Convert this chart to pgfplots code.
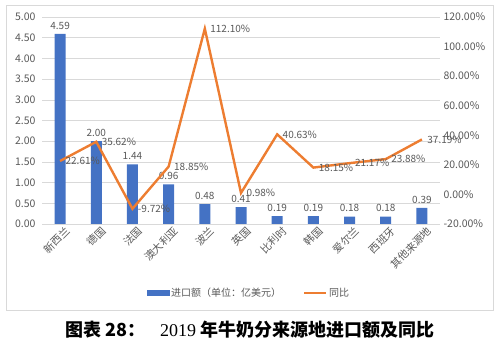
\documentclass[border=0pt]{standalone}
\usepackage{pgfplots}
\pgfplotsset{compat=1.18}
\usepackage{fontspec}
\setmainfont{Noto Sans CJK SC}
\newfontfamily\cjk{Noto Sans CJK SC}
\newfontfamily\capserif{Liberation Serif}
\definecolor{barblue}{HTML}{4472C4}
\definecolor{lineor}{HTML}{ED7D31}
\definecolor{txt}{HTML}{595959}
\definecolor{gridc}{HTML}{D9D9D9}
\begin{document}
\begin{tikzpicture}
\path[use as bounding box] (0pt,0pt) rectangle (500pt,353pt);
\draw[gridc, line width=0.8pt] (6pt,43pt) rectangle (493pt,348pt);
\begin{axis}[
  at={(42pt,129pt)}, anchor=south west, scale only axis,
  width=398pt, height=207pt,
  xmin=-0.5, xmax=10.5, ymin=0, ymax=5,
  ytick={0,0.5,1,1.5,2,2.5,3,3.5,4,4.5,5},
  yticklabel={\pgfmathprintnumber[fixed,fixed zerofill,precision=2]{\tick}},
  xtick={0,...,10},
  xticklabels={新西兰,德国,法国,澳大利亚,波兰,英国,比利时,韩国,爱尔兰,西班牙,其他来源地},
  x tick label style={font=\cjk\fontsize{10.5}{11}\selectfont, text=txt, rotate=45, anchor=east, inner sep=0pt, xshift=2pt, yshift=-9pt},
  y tick label style={font=\fontsize{10.5}{11}\selectfont, text=txt, xshift=-3pt},
  /pgf/number format/assume math mode=true,
  axis x line*=bottom, axis y line*=left, y axis line style={draw=none},
  x axis line style={gridc, line width=0.8pt},
  major tick length=0pt,
  ymajorgrids, grid style={gridc, line width=0.6pt},
  clip=false,
]
\addplot[ybar, bar width=11pt, fill=barblue, draw=none,
  nodes near coords={\pgfmathprintnumber[fixed,fixed zerofill,precision=2]{\pgfplotspointmeta}},
  every node near coord/.append style={font=\fontsize{10}{11}\selectfont, text=txt, anchor=south, yshift=1pt}]
  coordinates {(0,4.59) (1,2.00) (2,1.44) (3,0.96) (4,0.48) (5,0.41) (6,0.19) (7,0.19) (8,0.18) (9,0.18) (10,0.39)};
\end{axis}
\begin{axis}[
  at={(42pt,129pt)}, anchor=south west, scale only axis,
  width=398pt, height=207pt,
  xmin=-0.5, xmax=10.5, ymin=-20, ymax=120,
  ytick={-20,0,20,40,60,80,100,120},
  yticklabel={\pgfmathprintnumber[fixed,fixed zerofill,precision=2]{\tick}\%},
  y tick label style={font=\fontsize{10.5}{11}\selectfont, text=txt},
  /pgf/number format/assume math mode=true,
  axis x line=none, axis y line*=right, y axis line style={draw=none},
  major tick length=0pt,
  clip=false,
  legend style={at={(0.52,-0.333)}, anchor=center, draw=none, fill=none,
    legend columns=2, font=\cjk\fontsize{10}{11}\selectfont, text=txt,
    /tikz/every even column/.append style={column sep=20pt}},
]
\addlegendimage{legend image code/.code={\fill[barblue] (0pt,-2.5pt) rectangle (22pt,2.5pt);}}
\addlegendentry{进口额（单位：亿美元）}
\addplot[lineor, line width=2.4pt, mark=none,
  legend image code/.code={\draw[lineor, line width=2pt] (0pt,0pt) -- (22pt,0pt);},
  nodes near coords={\pgfmathprintnumber[fixed,fixed zerofill,precision=2]{\pgfplotspointmeta}\%},
  every node near coord/.append style={font=\fontsize{10}{11}\selectfont, text=txt, anchor=west, xshift=1pt}]
  coordinates {(0,22.61) (1,35.62) (2,-9.72) (3,18.85) (4,112.10) (5,0.98) (6,40.63) (7,18.15) (8,21.17) (9,23.88) (10,37.19)};
\addlegendentry{同比}
\end{axis}
\node[anchor=center, font=\cjk\bfseries\fontsize{18}{20}\selectfont] at (250pt,23pt) {图表 28：\hspace{0.8em}{\capserif\mdseries 2019} 年牛奶分来源地进口额及同比};
\end{tikzpicture}
\end{document}
